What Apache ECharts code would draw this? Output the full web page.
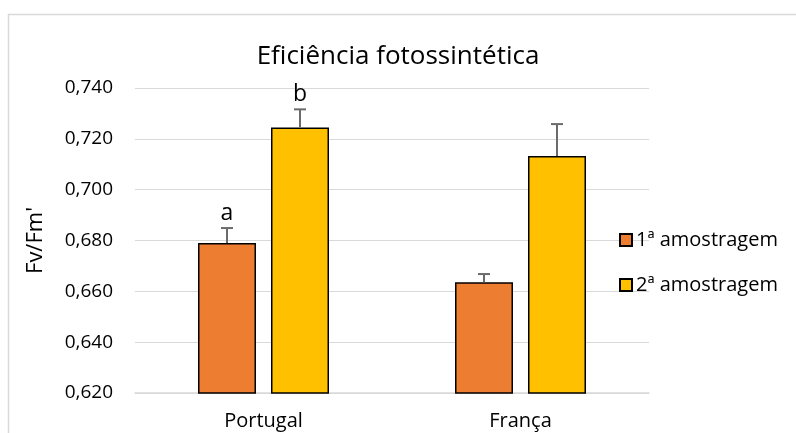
<!DOCTYPE html>
<html>
<head>
<meta charset="utf-8">
<script src="https://cdn.jsdelivr.net/npm/echarts@6/dist/echarts.min.js"></script>
<style>
  html, body { margin: 0; padding: 0; background: #fff; }
  #chart { width: 796px; height: 433px; }
</style>
</head>
<body>
<div id="chart"></div>
<script>
var categories = ['Portugal', 'França'];
var seriesNames = ['1ª amostragem', '2ª amostragem'];
var amostra1 = [0.679, 0.6636];
var amostra2 = [0.7245, 0.7132];
var erro1 = [0.0059, 0.0032];
var erro2 = [0.0071, 0.0126];
var letras1 = ['a', ''];
var letras2 = ['b', ''];

var barW = 58, barGap = 15;
var fontFam = "'Open Sans', 'Noto Sans', sans-serif";

// error bars + letters drawn on top of each bar
function errorSeries(vals, errs, letters, offset) {
    return {
        type: 'custom',
        z: 5,
        silent: true,
        data: vals.map(function (v, i) { return [i, v, errs[i]]; }),
        renderItem: function (params, api) {
            var top = api.coord([api.value(0), api.value(1) + api.value(2)]);
            var base = api.coord([api.value(0), api.value(1)]);
            var x = top[0] + offset;
            var children = [
                { type: 'line', shape: { x1: x, y1: base[1], x2: x, y2: top[1] },
                  style: { stroke: '#6b6b6b', lineWidth: 2 } },
                { type: 'line', shape: { x1: x - 6, y1: top[1], x2: x + 6, y2: top[1] },
                  style: { stroke: '#6b6b6b', lineWidth: 2 } }
            ];
            var lt = letters[params.dataIndex];
            if (lt) {
                children.push({ type: 'text', style: {
                    text: lt, x: x, y: top[1] - 3, align: 'center', verticalAlign: 'bottom',
                    font: '23px ' + fontFam, fill: '#000' } });
            }
            return { type: 'group', children: children };
        }
    };
}

var option = {
    animation: false,
    graphic: [{
        type: 'rect', silent: true,
        shape: { x: 8.5, y: 14.5, width: 820, height: 440 },
        style: { fill: 'none', stroke: '#d9d9d9', lineWidth: 1.5 }
    }],
    title: {
        text: 'Eficiência fotossintética',
        left: 'center',
        top: 39,
        textStyle: { color: '#000', fontSize: 26, fontWeight: 'normal', fontFamily: fontFam }
    },
    legend: {
        orient: 'vertical',
        left: 614,
        top: 225,
        icon: 'rect',
        itemWidth: 12,
        itemHeight: 12,
        itemGap: 25,
        data: seriesNames,
        textStyle: { color: '#000', fontSize: 20, fontFamily: fontFam, padding: [0, 0, 0, -1] }
    },
    grid: { left: 135, right: 147, top: 88, bottom: 40 },
    xAxis: {
        type: 'category',
        data: categories,
        axisLine: { lineStyle: { color: '#d9d9d9', width: 1.5 } },
        axisTick: { show: false },
        axisLabel: { color: '#000', fontSize: 20, fontFamily: fontFam, margin: 18 }
    },
    yAxis: {
        type: 'value',
        min: 0.62,
        max: 0.74,
        interval: 0.02,
        name: "Fv/Fm'",
        nameLocation: 'middle',
        nameGap: 88,
        nameTextStyle: { color: '#000', fontSize: 22, fontFamily: fontFam },
        axisLine: { show: false },
        axisTick: { show: false },
        splitLine: { lineStyle: { color: '#d9d9d9', width: 1 } },
        axisLabel: {
            color: '#000', fontSize: 19, fontFamily: fontFam, margin: 22,
            formatter: function (v) { return v.toFixed(3).replace('.', ','); }
        }
    },
    series: [
        {
            name: seriesNames[0], type: 'bar', data: amostra1,
            barWidth: barW, barGap: (barGap / barW * 100) + '%',
            itemStyle: { color: '#ed7d31', borderColor: '#000', borderWidth: 1.5 }
        },
        {
            name: seriesNames[1], type: 'bar', data: amostra2,
            barWidth: barW,
            itemStyle: { color: '#ffc000', borderColor: '#000', borderWidth: 1.5 }
        },
        errorSeries(amostra1, erro1, letras1, -(barW + barGap) / 2),
        errorSeries(amostra2, erro2, letras2, (barW + barGap) / 2)
    ]
};

var chart = echarts.init(document.getElementById('chart'));
chart.setOption(option);
</script>
</body>
</html>
